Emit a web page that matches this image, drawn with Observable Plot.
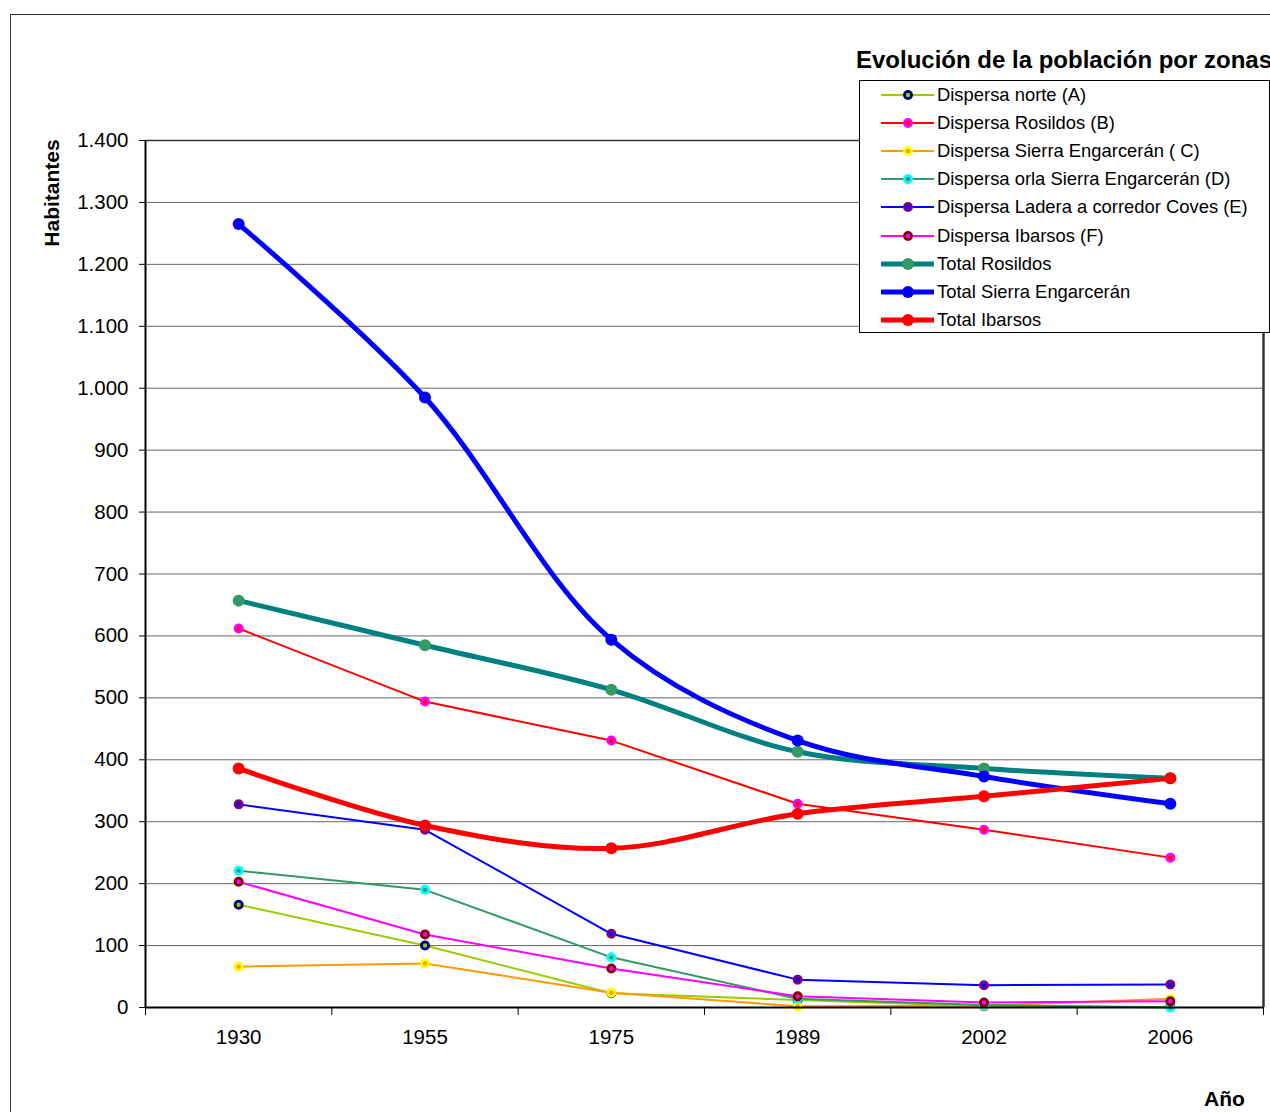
<!DOCTYPE html>
<html>
<head>
<meta charset="utf-8">
<script src="https://cdn.jsdelivr.net/npm/d3@7"></script>
<script src="https://cdn.jsdelivr.net/npm/@observablehq/plot@0.6"></script>
<style>
  html, body { margin: 0; padding: 0; background: #fff; width: 1270px; height: 1112px; overflow: hidden; font-family: "Liberation Sans", Arial, sans-serif; }
  #wrap { position: relative; width: 1270px; height: 1112px; }
  #frame { position: absolute; left: 10px; top: 14px; width: 1400px; height: 1300px; border: 1.5px solid #333; box-sizing: border-box; }
  #chart { position: absolute; left: 0; top: 0; }
  #title { position: absolute; left: 856px; top: 46px; font-weight: bold; font-size: 24px; white-space: nowrap; color: #000; }
  #ylab { position: absolute; left: 52px; top: 193px; transform: translate(-50%, -50%) rotate(-90deg); font-weight: bold; font-size: 21px; white-space: nowrap; }
  #xlab { position: absolute; left: 1204px; top: 1087px; font-weight: bold; font-size: 21px; }
  #legend { position: absolute; left: 859px; top: 80px; width: 411px; height: 253px; border: 1px solid #000; box-sizing: border-box; background: #fff; }
  .row { position: absolute; left: 0; height: 28px; display: flex; align-items: center; font-size: 18.4px; white-space: nowrap; }
  .row svg { margin-left: 21px; margin-right: 2px; }
</style>
</head>
<body>
<div id="wrap">
  <div id="frame"></div>
  <div id="chart"></div>
  <div id="title">Evolución de la población por zonas</div>
  <div id="ylab">Habitantes</div>
  <div id="xlab">Año</div>
  <div id="legend"></div>
</div>
<script>
const years = ["1930", "1955", "1975", "1989", "2002", "2006"];
const dispersaNorteA = [166, 100, 23, 12, 2, 1];
const dispersaRosildosB = [612, 494, 431, 329, 287, 242];
const dispersaSierraC = [66, 71, 24, 2, 3, 14];
const dispersaOrlaD = [221, 190, 81, 14, 4, 0];
const dispersaLaderaE = [328, 287, 119, 45, 36, 37];
const dispersaIbarsosF = [203, 118, 63, 18, 8, 10];
const totalRosildos = [657, 585, 513, 413, 386, 370];
const totalSierra = [1265, 985, 594, 431, 373, 329];
const totalIbarsos = [386, 294, 257, 313, 341, 370];
const yTicks = [0, 100, 200, 300, 400, 500, 600, 700, 800, 900, 1000, 1100, 1200, 1300, 1400];

const series = [
  {name: "Dispersa norte (A)", values: dispersaNorteA, line: "#99CC00", fill: "#99CC00", mstroke: "#000080", thick: false},
  {name: "Dispersa Rosildos (B)", values: dispersaRosildosB, line: "#FF0000", fill: "#FF0000", mstroke: "#FF00FF", thick: false},
  {name: "Dispersa Sierra Engarcerán ( C)", values: dispersaSierraC, line: "#FF9900", fill: "#FF9900", mstroke: "#FFFF00", thick: false},
  {name: "Dispersa orla Sierra Engarcerán (D)", values: dispersaOrlaD, line: "#339966", fill: "#339966", mstroke: "#00FFFF", thick: false},
  {name: "Dispersa Ladera a corredor Coves (E)", values: dispersaLaderaE, line: "#0000FF", fill: "#0000FF", mstroke: "#800080", thick: false},
  {name: "Dispersa Ibarsos (F)", values: dispersaIbarsosF, line: "#FF00FF", fill: "#FF00FF", mstroke: "#800000", thick: false},
  {name: "Total Rosildos", values: totalRosildos, line: "#008080", fill: "#339966", mstroke: "#339966", thick: true},
  {name: "Total Sierra Engarcerán", values: totalSierra, line: "#0000FF", fill: "#0000FF", mstroke: "#0000FF", thick: true},
  {name: "Total Ibarsos", values: totalIbarsos, line: "#FF0000", fill: "#FF0000", mstroke: "#FF0000", thick: true}
];

const boundaries = years.map((_, i) => i - 0.5).concat([years.length - 0.5]);
const fmt = d => d >= 1000 ? Math.floor(d / 1000) + "." + String(d % 1000).padStart(3, "0") : String(d);

const marks = [
  Plot.ruleY(yTicks.filter(t => t > 0), {y: d => d, stroke: "#666", strokeWidth: 1}),
  Plot.ruleX([boundaries[boundaries.length - 1]], {x: d => d, y1: 0, y2: 1400, stroke: "#333", strokeWidth: 2.5}),
  Plot.axisY({ticks: yTicks, tickFormat: fmt, tickSize: 6, tickPadding: 11, fontSize: 20.5, label: null, stroke: "#000"}),
  Plot.axisX({ticks: boundaries, tickFormat: () => "", tickSize: 8, label: null, stroke: "#000"}),
  Plot.axisX({ticks: years.map((_, i) => i), tickFormat: i => years[i], tickSize: 0, tickPadding: 22, fontSize: 20.5, label: null})
];

series.forEach(s => {
  const rows = s.values.map((v, i) => ({i, v}));
  marks.push(Plot.line(rows, {x: "i", y: "v", stroke: s.line, strokeWidth: s.thick ? 5 : 2, curve: s.thick ? "catmull-rom" : "linear"}));
  if (s.thick) {
    marks.push(Plot.dot(rows, {x: "i", y: "v", r: 6, fill: s.fill, stroke: "none"}));
  } else {
    marks.push(Plot.dot(rows, {x: "i", y: "v", r: 3.6, fill: s.fill, stroke: s.mstroke, strokeWidth: 2.8}));
  }
});

marks.push(Plot.ruleX([boundaries[0]], {x: d => d, y1: 0, y2: 1400, stroke: "#000", strokeWidth: 2}));
marks.push(Plot.ruleY([1400], {y: d => d, stroke: "#333", strokeWidth: 1.5}));
marks.push(Plot.ruleY([0], {y: d => d, stroke: "#000", strokeWidth: 2}));

const chart = Plot.plot({
  width: 1270,
  height: 1112,
  marginLeft: 145,
  marginRight: 7,
  marginTop: 140,
  marginBottom: 105,
  style: {fontFamily: "'Liberation Sans', Arial, sans-serif", color: "#000", background: "transparent"},
  x: {type: "linear", domain: [-0.5, years.length - 0.5], axis: null},
  y: {type: "linear", domain: [0, 1400], axis: null},
  marks
});
document.getElementById("chart").appendChild(chart);

const legend = document.getElementById("legend");
series.forEach((s, k) => {
  const row = document.createElement("div");
  row.className = "row";
  row.style.top = (k * 28.1) + "px";
  const ns = "http://www.w3.org/2000/svg";
  const svg = document.createElementNS(ns, "svg");
  svg.setAttribute("width", 54);
  svg.setAttribute("height", 14);
  const ln = document.createElementNS(ns, "line");
  ln.setAttribute("x1", 0); ln.setAttribute("x2", 53); ln.setAttribute("y1", 7); ln.setAttribute("y2", 7);
  ln.setAttribute("stroke", s.line); ln.setAttribute("stroke-width", s.thick ? 5 : 2);
  svg.appendChild(ln);
  const c = document.createElementNS(ns, "circle");
  c.setAttribute("cx", 27); c.setAttribute("cy", 7);
  if (s.thick) { c.setAttribute("r", 6); c.setAttribute("fill", s.fill); }
  else { c.setAttribute("r", 3.6); c.setAttribute("fill", s.fill); c.setAttribute("stroke", s.mstroke); c.setAttribute("stroke-width", 2.8); }
  svg.appendChild(c);
  row.appendChild(svg);
  const t = document.createElement("span");
  t.textContent = s.name;
  row.appendChild(t);
  legend.appendChild(row);
});
</script>
</body>
</html>
